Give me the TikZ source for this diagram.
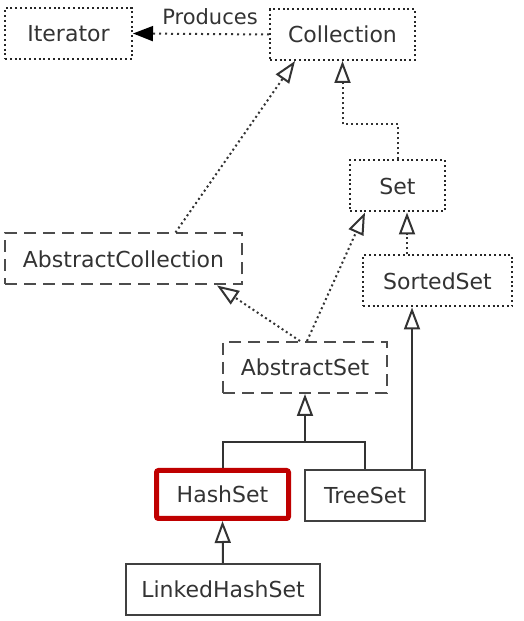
\documentclass[tikz,border=0pt]{standalone}
\usepackage{fontspec}
\setmainfont{DejaVu Sans}
\usetikzlibrary{arrows.meta, positioning}
\tikzset{
  every node/.style={font=\fontsize{11}{13}\selectfont, text=black!80},
  iface/.style={
    draw=black!85, line width=1pt, dash pattern=on 1pt off 1.4pt,
    minimum height=25.5pt, inner sep=0pt
  },
  abstractbox/.style={
    draw=black!70, line width=1pt, dash pattern=on 6pt off 3.5pt,
    minimum height=25.5pt, inner sep=0pt
  },
  classbox/.style={
    draw=black!75, line width=1pt,
    minimum height=25.5pt, inner sep=0pt
  },
  picked/.style={
    draw=red!75!black, line width=2.5pt, rounded corners=1pt,
    minimum height=25.5pt, inner sep=0pt
  },
  realize/.style={-{Triangle[open, length=11pt, width=8pt]}, draw=black!80,
    line width=1pt, dash pattern=on 1pt off 1.5pt},
  inherit/.style={-{Triangle[open, length=11pt, width=8pt]}, draw=black!80,
    line width=1pt},
  produce/.style={-{Triangle[length=10pt, width=7.5pt, color=black]},
    draw=black!80, line width=1pt, dash pattern=on 1pt off 2pt},
}
\begin{document}
\begin{tikzpicture}[x=0.5pt, y=0.5pt]
    \useasboundingbox (0,0) rectangle (524,621);

    % Interfaces
    \node[iface, minimum width=63.5pt] (iter) at (68.5,587.5) {Iterator};
    \node[iface, minimum width=72.5pt] (coll) at (342.5,586.5) {Collection};
    \node[iface, minimum width=47.5pt] (set) at (397.5,435) {Set};
    \node[iface, minimum width=74.5pt] (sorted) at (437.5,340) {SortedSet};

    % Abstract classes
    \node[abstractbox, minimum width=118.5pt] (abscoll) at (123.5,362) {AbstractCollection};
    \node[abstractbox, minimum width=82pt] (absset) at (305,253.5) {AbstractSet};

    % Concrete classes
    \node[picked, minimum width=66pt, minimum height=24pt] (hashset) at (222.5,126.5) {HashSet};
    \node[classbox, minimum width=60pt] (treeset) at (365,125.5) {TreeSet};
    \node[classbox, minimum width=97pt] (linked) at (223,31.5) {LinkedHashSet};

    % Produces
    \draw[produce] (coll.west) -- (iter.east)
      node[midway, above=1pt, xshift=4.5pt, font=\fontsize{10.5}{12}\selectfont] {Produces};

    % Interface realisation
    \draw[realize] ([xshift=26pt]abscoll.north) -- ([xshift=-23.75pt]coll.south);
    \draw[realize] (set.north) -- ++(0,35) -| (coll.south);
    \draw[realize] ([xshift=-15.25pt]sorted.north) -- ([xshift=-15.25pt]sorted.north |- set.south);
    \draw[realize] ([xshift=-2.5pt]absset.north) -- ([xshift=46.75pt]abscoll.south);
    \draw[realize] ([xshift=1pt]absset.north) -- ([xshift=-16.25pt]set.south);

    % Inheritance
    \coordinate (fork) at ([yshift=-24pt]absset.south);
    \draw[line width=1pt, draw=black!80] (hashset.north) |- (fork) -| (treeset.north);
    \draw[inherit] (fork) -- (absset.south);
    \draw[inherit] ([xshift=23.5pt]treeset.north) -- ([xshift=23.5pt]treeset.north |- sorted.south);
    \draw[inherit] (linked.north) -- (hashset.south);

\end{tikzpicture}
\end{document}
